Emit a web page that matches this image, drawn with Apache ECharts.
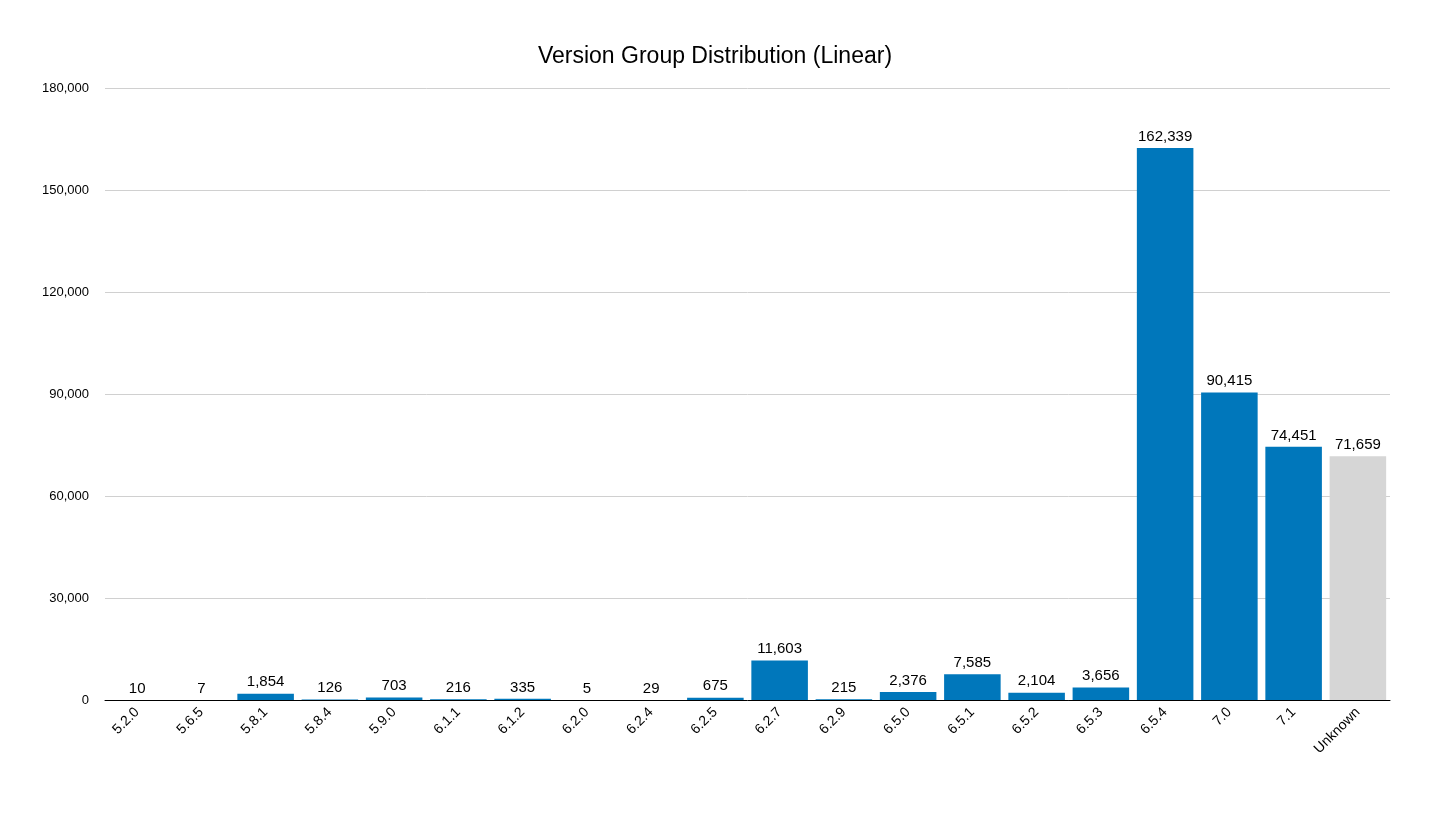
<!DOCTYPE html>
<html>
<head>
<meta charset="utf-8">
<script src="https://cdn.jsdelivr.net/npm/echarts@6/dist/echarts.min.js"></script>
<style>
  html, body { margin: 0; padding: 0; background: #fff; }
  #chart { width: 1430px; height: 815px; }
</style>
</head>
<body>
<div id="chart"></div>
<script>
const versions = ['5.2.0', '5.6.5', '5.8.1', '5.8.4', '5.9.0', '6.1.1', '6.1.2', '6.2.0', '6.2.4', '6.2.5',
    '6.2.7', '6.2.9', '6.5.0', '6.5.1', '6.5.2', '6.5.3', '6.5.4', '7.0', '7.1', 'Unknown'];
const counts = [10, 7, 1854, 126, 703, 216, 335, 5, 29, 675,
    11603, 215, 2376, 7585, 2104, 3656, 162339, 90415, 74451, 71659];
const unknownLabel = 'Unknown';

const blue = '#0077bb';
const grey = '#d6d6d6';

const chart = echarts.init(document.getElementById('chart'));
chart.setOption({
    animation: false,
    title: {
        text: 'Version Group Distribution (Linear)',
        left: 'center',
        top: 40,
        textStyle: { fontFamily: 'Helvetica, Arial, sans-serif', fontSize: 23, fontWeight: 'normal', color: '#000' }
    },
    grid: { left: 105, right: 40, top: 88, bottom: 115 },
    xAxis: {
        type: 'category',
        data: versions,
        axisLine: { lineStyle: { color: '#000', width: 1 } },
        axisTick: { show: false },
        axisLabel: {
            rotate: 45, interval: 0, color: '#000', fontSize: 14,
            fontFamily: 'Helvetica, Arial, sans-serif', margin: 10
        }
    },
    yAxis: {
        type: 'value',
        min: 0, max: 180000, interval: 30000,
        axisLine: { show: false },
        axisTick: { show: false },
        splitLine: { lineStyle: { color: '#d0d0d0' } },
        axisLabel: {
            color: '#000', fontSize: 13, margin: 16,
            fontFamily: 'Helvetica, Arial, sans-serif',
            formatter: v => v.toLocaleString('en-US')
        }
    },
    series: [{
        type: 'bar',
        barCategoryGap: '12%',
        data: counts.map((v, i) => ({
            value: v,
            itemStyle: { color: versions[i] === unknownLabel ? grey : blue }
        })),
        label: {
            show: true, position: 'top', color: '#000', fontSize: 15, distance: 4,
            fontFamily: 'Helvetica, Arial, sans-serif',
            formatter: p => p.value.toLocaleString('en-US')
        }
    }]
});
</script>
</body>
</html>
